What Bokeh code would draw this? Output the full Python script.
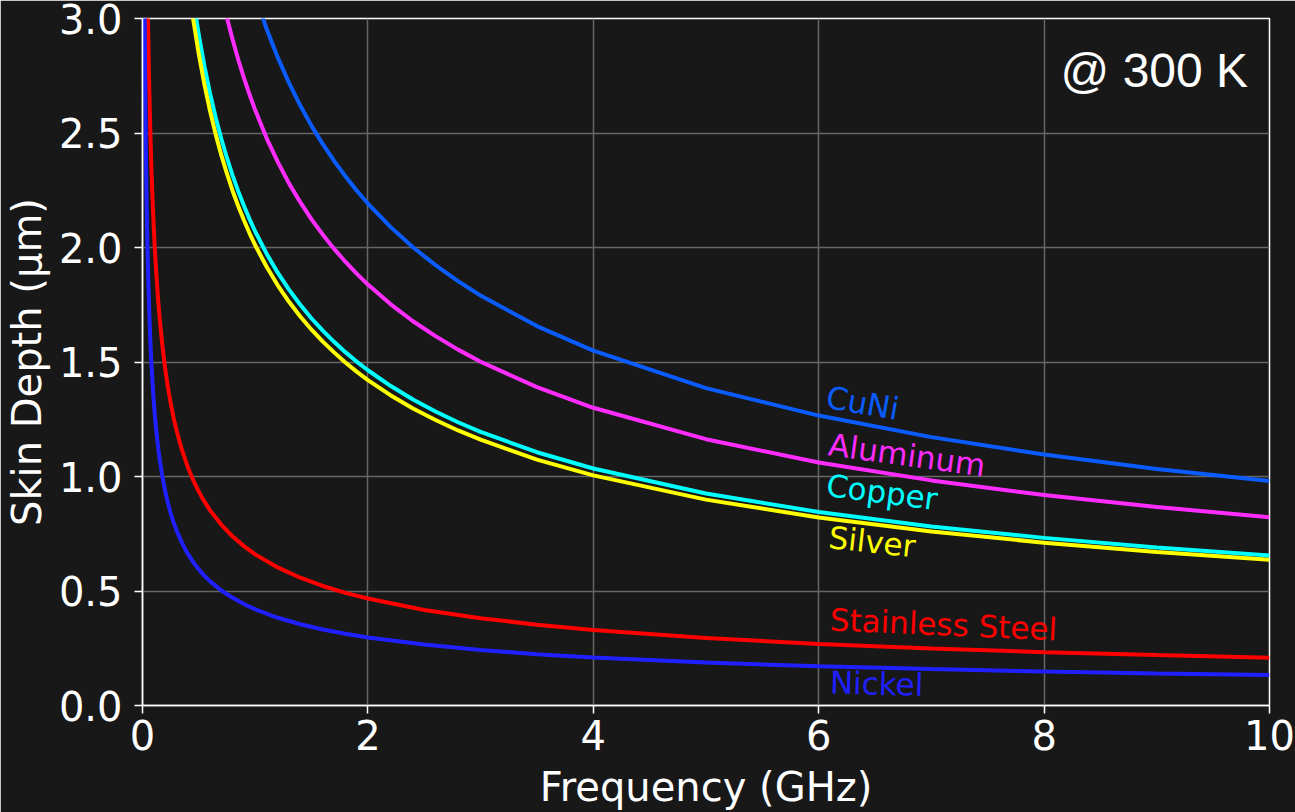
from bokeh.plotting import figure
from bokeh.models import Range1d, FixedTicker, NumeralTickFormatter, ColumnDataSource
from bokeh.core.properties import value
from bokeh.embed import file_html
from bokeh.resources import INLINE

# ---- data (frequency in GHz, skin depth in um) ----
freq_cuni = [1.0, 1.1, 1.2, 1.3, 1.4, 1.5, 1.6, 1.7, 1.8, 1.9, 2.0, 2.2, 2.4, 2.6, 2.8, 3.0, 3.5, 4.0, 5.0, 6.0, 7.0, 8.0, 9.0, 10.0]
depth_cuni = [3.100, 2.956, 2.830, 2.719, 2.620, 2.531, 2.451, 2.378, 2.311, 2.249, 2.192, 2.090, 2.001, 1.923, 1.853, 1.790, 1.657, 1.550, 1.386, 1.266, 1.172, 1.096, 1.033, 0.980]

freq_al = [0.7, 0.75, 0.8, 0.85, 0.9, 0.95, 1.0, 1.1, 1.2, 1.3, 1.4, 1.5, 1.6, 1.7, 1.8, 1.9, 2.0, 2.2, 2.4, 2.6, 2.8, 3.0, 3.5, 4.0, 5.0, 6.0, 7.0, 8.0, 9.0, 10.0]
depth_al = [3.108, 3.002, 2.907, 2.820, 2.741, 2.668, 2.600, 2.479, 2.374, 2.280, 2.198, 2.123, 2.056, 1.994, 1.938, 1.886, 1.838, 1.753, 1.678, 1.613, 1.554, 1.501, 1.390, 1.300, 1.163, 1.061, 0.983, 0.919, 0.867, 0.822]

freq_cu = [0.45, 0.5, 0.55, 0.6, 0.65, 0.7, 0.75, 0.8, 0.85, 0.9, 0.95, 1.0, 1.1, 1.2, 1.3, 1.4, 1.5, 1.6, 1.7, 1.8, 1.9, 2.0, 2.2, 2.4, 2.6, 2.8, 3.0, 3.5, 4.0, 5.0, 6.0, 7.0, 8.0, 9.0, 10.0]
depth_cu = [3.086, 2.927, 2.791, 2.672, 2.567, 2.474, 2.390, 2.314, 2.245, 2.182, 2.124, 2.070, 1.974, 1.890, 1.816, 1.750, 1.690, 1.637, 1.588, 1.543, 1.502, 1.464, 1.396, 1.336, 1.284, 1.237, 1.195, 1.106, 1.035, 0.926, 0.845, 0.782, 0.732, 0.690, 0.655]

freq_ag = [0.4, 0.45, 0.5, 0.55, 0.6, 0.65, 0.7, 0.75, 0.8, 0.85, 0.9, 0.95, 1.0, 1.1, 1.2, 1.3, 1.4, 1.5, 1.6, 1.7, 1.8, 1.9, 2.0, 2.2, 2.4, 2.6, 2.8, 3.0, 3.5, 4.0, 5.0, 6.0, 7.0, 8.0, 9.0, 10.0]
depth_ag = [3.178, 2.996, 2.843, 2.710, 2.595, 2.493, 2.402, 2.321, 2.247, 2.180, 2.119, 2.062, 2.010, 1.917, 1.835, 1.763, 1.699, 1.641, 1.589, 1.542, 1.498, 1.458, 1.421, 1.355, 1.297, 1.247, 1.201, 1.161, 1.074, 1.005, 0.899, 0.821, 0.760, 0.711, 0.670, 0.636]

freq_ss = [0.04, 0.045, 0.05, 0.06, 0.07, 0.08, 0.09, 0.1, 0.11, 0.12, 0.13, 0.14, 0.15, 0.175, 0.2, 0.225, 0.25, 0.275, 0.3, 0.35, 0.4, 0.45, 0.5, 0.55, 0.6, 0.7, 0.8, 0.9, 1.0, 1.2, 1.4, 1.6, 1.8, 2.0, 2.5, 3.0, 3.5, 4.0, 5.0, 6.0, 7.0, 8.0, 9.0, 10.0]
depth_ss = [3.300, 3.111, 2.952, 2.694, 2.495, 2.333, 2.200, 2.087, 1.990, 1.905, 1.831, 1.764, 1.704, 1.578, 1.476, 1.391, 1.320, 1.259, 1.205, 1.116, 1.044, 0.984, 0.933, 0.890, 0.852, 0.789, 0.738, 0.696, 0.660, 0.603, 0.558, 0.522, 0.492, 0.467, 0.417, 0.381, 0.353, 0.330, 0.295, 0.269, 0.249, 0.233, 0.220, 0.209]

freq_ni = [0.015, 0.02, 0.025, 0.03, 0.035, 0.04, 0.045, 0.05, 0.06, 0.07, 0.08, 0.09, 0.1, 0.11, 0.12, 0.13, 0.14, 0.15, 0.175, 0.2, 0.225, 0.25, 0.275, 0.3, 0.35, 0.4, 0.45, 0.5, 0.55, 0.6, 0.7, 0.8, 0.9, 1.0, 1.2, 1.4, 1.6, 1.8, 2.0, 2.5, 3.0, 3.5, 4.0, 5.0, 6.0, 7.0, 8.0, 9.0, 10.0]
depth_ni = [3.429, 2.970, 2.656, 2.425, 2.245, 2.100, 1.980, 1.878, 1.715, 1.587, 1.485, 1.400, 1.328, 1.266, 1.212, 1.165, 1.122, 1.084, 1.004, 0.939, 0.885, 0.840, 0.801, 0.767, 0.710, 0.664, 0.626, 0.594, 0.566, 0.542, 0.502, 0.470, 0.443, 0.420, 0.383, 0.355, 0.332, 0.313, 0.297, 0.266, 0.242, 0.224, 0.210, 0.188, 0.171, 0.159, 0.148, 0.140, 0.133]

materials = ["CuNi", "Aluminum", "Copper", "Silver", "Stainless Steel", "Nickel"]
x_ticks = [0, 2, 4, 6, 8, 10]
y_ticks = [0.0, 0.5, 1.0, 1.5, 2.0, 2.5, 3.0]

# label anchor positions (data coords) and rotations (deg)
label_x = [6.07, 6.09, 6.07, 6.09, 6.10, 6.10]
label_y = [1.349, 1.141, 0.964, 0.736, 0.376, 0.101]
label_angle = [-10.0, -7.8, -7.5, -6.3, -2.5, -1.5]

colors = ["#0a5cff", "#ff2cff", "#00ffff", "#ffff00", "#ff0000", "#2020ff"]
series = [(freq_cuni, depth_cuni), (freq_al, depth_al), (freq_cu, depth_cu),
          (freq_ag, depth_ag), (freq_ss, depth_ss), (freq_ni, depth_ni)]

BG = "#181818"
FONT = "DejaVu Sans"

p = figure(width=1295, height=812, output_backend="svg", toolbar_location=None,
           x_range=Range1d(0, 10), y_range=Range1d(0, 3),
           min_border_left=141, min_border_right=26, min_border_top=18, min_border_bottom=104,
           background_fill_color=BG, border_fill_color=BG,
           outline_line_color="white", outline_line_width=1.5)

for ax in (p.xaxis[0], p.yaxis[0]):
    ax.axis_line_color = "white"
    ax.axis_line_width = 1.5
    ax.major_tick_line_color = "white"
    ax.major_tick_line_width = 1.5
    ax.major_tick_in = 0
    ax.major_tick_out = 8
    ax.minor_tick_line_color = None
    ax.major_label_text_font = FONT
    ax.major_label_text_font_size = "40px"
    ax.major_label_text_color = "white"
    ax.axis_label_text_font = FONT
    ax.axis_label_text_font_size = "40px"
    ax.axis_label_text_color = "white"
    ax.axis_label_text_font_style = "normal"

p.xaxis.ticker = FixedTicker(ticks=x_ticks)
p.yaxis.ticker = FixedTicker(ticks=y_ticks)
p.xaxis.formatter = NumeralTickFormatter(format="0")
p.yaxis.formatter = NumeralTickFormatter(format="0.0")
p.xaxis.axis_label = "Frequency (GHz)"
p.yaxis.axis_label = "Skin Depth (μm)"
p.xaxis.major_label_standoff = 6
p.xaxis.axis_label_standoff = 11
p.yaxis.major_label_standoff = 12
p.yaxis.axis_label_standoff = 6

p.grid.grid_line_color = "#666666"
p.grid.grid_line_width = 1.5
p.xgrid.ticker = FixedTicker(ticks=x_ticks)
p.ygrid.ticker = FixedTicker(ticks=y_ticks)

for (fx, dy), c in zip(series, colors):
    p.line(fx, dy, line_color=c, line_width=4)

lab_src = ColumnDataSource(dict(x=label_x, y=label_y, text=materials,
                                angle=label_angle, color=colors))
p.text(x="x", y="y", text="text", angle="angle", angle_units="deg",
       text_color="color", text_font=value(FONT), text_font_size="31px",
       text_align="left", text_baseline="alphabetic", source=lab_src)

p.text(x=[9.81], y=[2.774], text=["@ 300 K"], text_color="white",
       text_font=value("Liberation Sans"), text_font_size="48px",
       text_align="right", text_baseline="alphabetic")

open("out.html", "w").write(file_html(p, INLINE))
